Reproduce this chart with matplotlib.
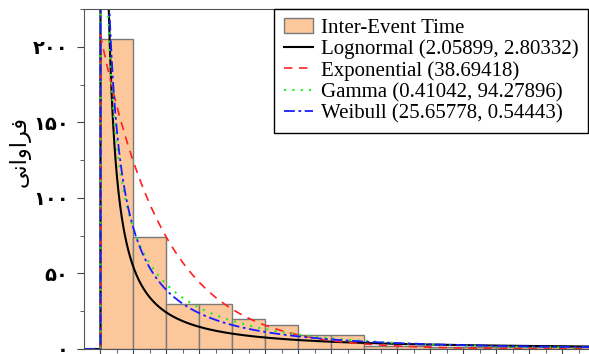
import math
import numpy as np
import matplotlib.pyplot as plt

# histogram of inter-event times (bin width 20)
bin_edges = np.arange(0, 320, 20)
counts = [205, 74, 30, 30, 20, 16, 9, 9, 2, 2, 1, 1, 1, 1, 1]

# fitted parameters, as printed in the legend
logn_params = [2.05899, 2.80332]     # mu, sigma
expo_params = [38.69418]             # mean
gamma_params = [0.41042, 94.27896]   # shape, scale
weib_params = [25.65778, 0.54443]    # scale, shape

# persian tick labels / axis label (presentation forms, visual order)
ytick_vals = [0, 50, 100, 150, 200]
ytick_labels = ['\u06f0', '\u06f5\u06f0', '\u06f1\u06f0\u06f0', '\u06f1\u06f5\u06f0', '\u06f2\u06f0\u06f0']
ylabel_text = '\ufbfd\ufee7\ufe8d\ufeed\ufe8d\ufeae\ufed3'

N = sum(counts)
w = bin_edges[1] - bin_edges[0]
scale = N * w

# pdf is zero for x <= 0, then the curves jump up at x = 0
x = np.concatenate([[-10, 0, 0], np.linspace(1e-4, 300, 6000)])
xp = np.where(x > 0, x, np.nan)

mu, sig = logn_params
f_logn = np.exp(-(np.log(xp) - mu)**2 / (2 * sig**2)) / (xp * sig * np.sqrt(2 * np.pi))
f_exp = np.exp(-xp / expo_params[0]) / expo_params[0]
a, th = gamma_params
f_gam = xp**(a - 1) * np.exp(-xp / th) / (math.gamma(a) * th**a)
lam, k = weib_params
f_wei = k / lam * (xp / lam)**(k - 1) * np.exp(-(xp / lam)**k)

curves = [np.nan_to_num(f, nan=0.0) * scale for f in (f_logn, f_exp, f_gam, f_wei)]
curves[1][2] = scale / expo_params[0]  # exponential starts at its max at x=0

fig = plt.figure(figsize=(5.89, 3.54), dpi=100)
ax = fig.add_axes([84/589, 5/354, 511/589, 340/354])

ax.hist(bin_edges[:-1], bins=bin_edges, weights=counts, color='#fcc89b',
        edgecolor='#7a7a7a', linewidth=1.0, label='Inter-Event Time')
ax.plot(x, curves[0], color='black', lw=1.5, label='Lognormal (2.05899, 2.80332)')
ax.plot(x, curves[1], color='#ff2020', lw=1.2, ls=(0, (5, 4)), label='Exponential (38.69418)')
ax.plot(x, curves[2], color='#22ee22', lw=1.5, ls=(0, (1, 3)), label='Gamma (0.41042, 94.27896)')
ax.plot(x, curves[3], color='#1a1aff', lw=1.3, ls=(0, (6, 2, 1.5, 2)), label='Weibull (25.65778, 0.54443)')

ax.set_xlim(-10, 300)
ax.set_ylim(0, 225)
ax.set_xticks(np.arange(0, 301, 20))
ax.set_xticks(np.arange(10, 301, 20), minor=True)
ax.set_xticklabels([])
ax.set_yticks(ytick_vals)
ax.set_yticks(np.arange(25, 226, 50), minor=True)
ax.set_yticklabels(ytick_labels, fontsize=14, fontweight='bold', family='DejaVu Sans')
ax.tick_params(which='major', direction='out', length=5, color='#444444', pad=6)
ax.tick_params(which='minor', direction='out', length=3, color='#444444')
for s in ax.spines.values():
    s.set_color('#555555')

ax.set_ylabel(ylabel_text, fontsize=16, family='DejaVu Sans')
ax.yaxis.set_label_coords(-0.105, 0.58)

leg = ax.legend(loc='upper right', bbox_to_anchor=(588/589, 345/354),
                bbox_transform=fig.transFigure, borderaxespad=0,
                prop={'family': 'Liberation Serif', 'size': 15},
                fancybox=False, framealpha=1, edgecolor='black',
                labelspacing=0.08, handlelength=1.4, handletextpad=0.4,
                borderpad=0.45)
leg.get_frame().set_linewidth(1.0)

fig.savefig('out.png', dpi=100)
